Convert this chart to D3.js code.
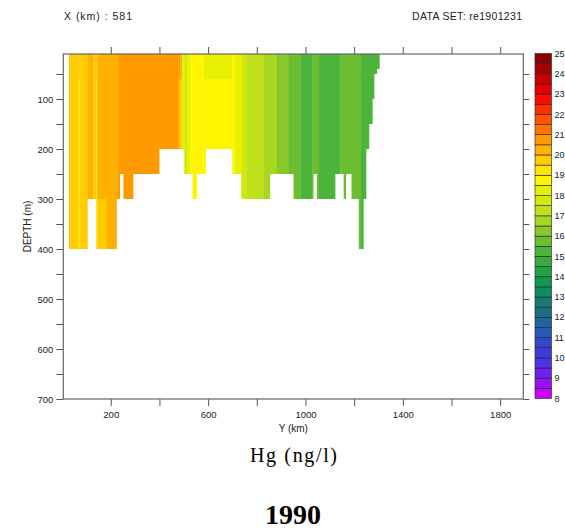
<!DOCTYPE html>
<html>
<head>
<meta charset="utf-8">
<title>Hg section</title>
<script src="https://d3js.org/d3.v7.min.js"></script>
<style>
  body { margin: 0; background: #fff; }
  text { font-family: "Liberation Sans", Arial, sans-serif; fill: #222; }
  .serif { font-family: "Liberation Serif", "Times New Roman", serif; fill: #000; }
  .axis path { display: none; }
  .axis line { stroke: #555; }
  .axis text { font-size: 9.5px; fill: #222; }
</style>
</head>
<body>
<svg id="chart" width="565" height="529"></svg>
<script>

// bathymetry along the section: column edges (km) and bottom depth (m)
var bottomEdges = [28, 105, 140, 225, 238, 252, 293, 400, 502, 536, 554, 591, 700, 736, 855, 951,
                   1033, 1047, 1123, 1157, 1167, 1189, 1219, 1239, 1250, 1262, 1276, 1283, 1294, 1305];
var bottomDepth = [400, 300, 400, 300, 250, 300, 250, 200, 250, 300, 250, 200, 250, 300, 250,
                   300, 250, 300, 250, 300, 250, 300, 400, 300, 200, 150, 100, 50, 40];

// Hg (ng/l) stripes: edges (km) and value in each depth layer
var stripeEdges = [28, 67, 74, 105, 128, 140, 145, 184, 230, 478, 485, 492, 502, 513, 526, 581,
                   698, 711, 739, 757, 828, 883, 929, 979, 1027, 1054, 1143, 1225, 1305];
var layerDepths = [10, 60, 300, 400];
var hgTop  = [19.75, 19.75, 19.75, 20.25, 19.75, 19.75, 20.25, 20.25, 20.75, 20.75, 20.25, 18.25, 17.75, 18.25,
              18.75, 18.25, 18.75, 18.25, 17.75, 17.25, 16.75, 16.25, 15.75, 15.25, 15.75, 15.25, 15.75, 15.25];
var hgMid  = [19.75, 19.25, 19.75, 20.25, 19.75, 19.25, 20.25, 20.25, 20.75, 20.25, 19.75, 18.25, 17.75, 18.25,
              18.75, 18.75, 18.75, 18.25, 17.75, 17.25, 16.75, 16.25, 15.75, 15.25, 15.75, 15.25, 15.75, 15.25];
var hgDeep = [19.75, 19.25, 19.75, 20.25, 19.75, 19.25, 19.75, 20.25, 20.75, 20.25, 19.25, 18.25, 17.75, 18.25,
              18.75, 18.75, 18.75, 18.25, 17.75, 17.25, 16.75, 16.25, 15.75, 15.25, 15.75, 15.25, 15.75, 15.25];

// colour levels, 8 to 25 by 0.5 (bottom to top)
var levels = [8, 8.5, 9, 9.5, 10, 10.5, 11, 11.5, 12, 12.5, 13, 13.5, 14, 14.5, 15, 15.5, 16, 16.5,
              17, 17.5, 18, 18.5, 19, 19.5, 20, 20.5, 21, 21.5, 22, 22.5, 23, 23.5, 24, 24.5, 25];
var levelColors = ["#cc00ff", "#9810f8", "#7020f0", "#5030e8", "#3c3cdc", "#3048cc", "#2858b8", "#2064a0",
                   "#1a7080", "#147c70", "#108a60", "#10984e", "#22a244", "#38ac3e", "#4cb43a", "#6cbd30",
                   "#88c82a", "#a8d820", "#bfe01a", "#d2e80a", "#e6f000", "#fff500", "#ffe600", "#ffcc00",
                   "#ffb000", "#ff9900", "#ff7500", "#ff5500", "#ff3000", "#ff0a00", "#e80000", "#c80000",
                   "#a80000", "#8b0000"];
var colorbarLabels = [8, 9, 10, 11, 12, 13, 14, 15, 16, 17, 18, 19, 20, 21, 22, 23, 24, 25];

var depthTicks = [50, 100, 150, 200, 250, 300, 350, 400, 450, 500, 550, 600, 650, 700];
var kmTicks = [200, 400, 600, 800, 1000, 1200, 1400, 1600, 1800];
var kmLabels = [200, 600, 1000, 1400, 1800];

var svg = d3.select("#chart");

var x = d3.scaleLinear().domain([5, 1895]).range([63.3, 523.3]);
var y = d3.scaleLinear().domain([10, 700]).range([54, 399]);
var color = d3.scaleThreshold().domain(levels.slice(1, -1)).range(levelColors);

// clip to the sea floor
var clip = svg.append("clipPath").attr("id", "sea");
clip.selectAll("rect")
    .data(bottomDepth)
    .enter().append("rect")
    .attr("x", function(d, i) { return x(bottomEdges[i]); })
    .attr("width", function(d, i) { return x(bottomEdges[i + 1]) - x(bottomEdges[i]); })
    .attr("y", y(10))
    .attr("height", function(d) { return y(d) - y(10); });

var cells = [];
hgTop.forEach(function(v, i) {
    [hgTop[i], hgMid[i], hgDeep[i]].forEach(function(val, k) {
        cells.push({x0: stripeEdges[i], x1: stripeEdges[i + 1],
                    d0: layerDepths[k], d1: layerDepths[k + 1], v: val});
    });
});

svg.append("g")
    .attr("clip-path", "url(#sea)")
    .selectAll("rect")
    .data(cells)
    .enter().append("rect")
    .attr("x", function(d) { return x(d.x0); })
    .attr("width", function(d) { return x(d.x1) - x(d.x0) + 0.3; })
    .attr("y", function(d) { return y(d.d0); })
    .attr("height", function(d) { return y(d.d1) - y(d.d0) + 0.3; })
    .attr("fill", function(d) { return color(d.v); });

// axes
svg.append("g").attr("class", "axis")
    .attr("transform", "translate(63.3,0)")
    .call(d3.axisLeft(y).tickValues(depthTicks).tickSize(7).tickPadding(3)
          .tickFormat(function(d) { return d % 100 === 0 ? d : ""; }));
svg.append("g").attr("class", "axis")
    .attr("transform", "translate(523.3,0)")
    .call(d3.axisRight(y).tickValues(depthTicks).tickSize(6).tickFormat(""));
svg.append("g").attr("class", "axis")
    .attr("transform", "translate(0,399)")
    .call(d3.axisBottom(x).tickValues(kmTicks).tickSize(7).tickPadding(5)
          .tickFormat(function(d) { return kmLabels.indexOf(d) >= 0 ? d : ""; }));
svg.append("g").attr("class", "axis")
    .attr("transform", "translate(0,54)")
    .call(d3.axisTop(x).tickValues(kmTicks).tickSize(7).tickFormat(""));

svg.append("rect")
    .attr("x", 63.3).attr("y", 54)
    .attr("width", 460).attr("height", 345)
    .attr("fill", "none").attr("stroke", "#666").attr("stroke-width", 1.2);

// colour bar
var cb = d3.scaleLinear().domain([8, 25]).range([398.5, 53.5]);
svg.append("g").selectAll("rect")
    .data(levelColors)
    .enter().append("rect")
    .attr("x", 535).attr("width", 16.5)
    .attr("y", function(d, i) { return cb(levels[i + 1]); })
    .attr("height", function(d, i) { return cb(levels[i]) - cb(levels[i + 1]); })
    .attr("fill", function(d) { return d; })
    .attr("stroke", "#222").attr("stroke-width", 0.6);
svg.append("g").selectAll("text")
    .data(colorbarLabels)
    .enter().append("text")
    .attr("x", 554.5).attr("y", function(d) { return cb(d); })
    .attr("dy", "0.35em")
    .style("font-size", "9px")
    .text(function(d) { return d; });

// labels
svg.append("text").attr("x", 64).attr("y", 19.5)
    .attr("textLength", 68).attr("lengthAdjust", "spacing")
    .style("font-size", "10.5px").text("X (km) : 581");
svg.append("text").attr("x", 412).attr("y", 19.5)
    .attr("textLength", 110).attr("lengthAdjust", "spacing")
    .style("font-size", "10.5px").text("DATA SET: re1901231");
svg.append("text").attr("transform", "translate(27.5,226.5) rotate(-90)")
    .attr("text-anchor", "middle").attr("dy", "0.35em")
    .style("font-size", "10px").text("DEPTH (m)");
svg.append("text").attr("x", 293.3).attr("y", 432).attr("text-anchor", "middle")
    .style("font-size", "10px").text("Y (km)");
svg.append("text").attr("class", "serif").attr("x", 250).attr("y", 462)
    .attr("textLength", 87).attr("lengthAdjust", "spacing")
    .style("font-size", "20px").text("Hg (ng/l)");
svg.append("text").attr("class", "serif").attr("x", 293).attr("y", 524)
    .attr("text-anchor", "middle").style("font-size", "28px").style("font-weight", "bold")
    .text("1990");

</script>
</body>
</html>
